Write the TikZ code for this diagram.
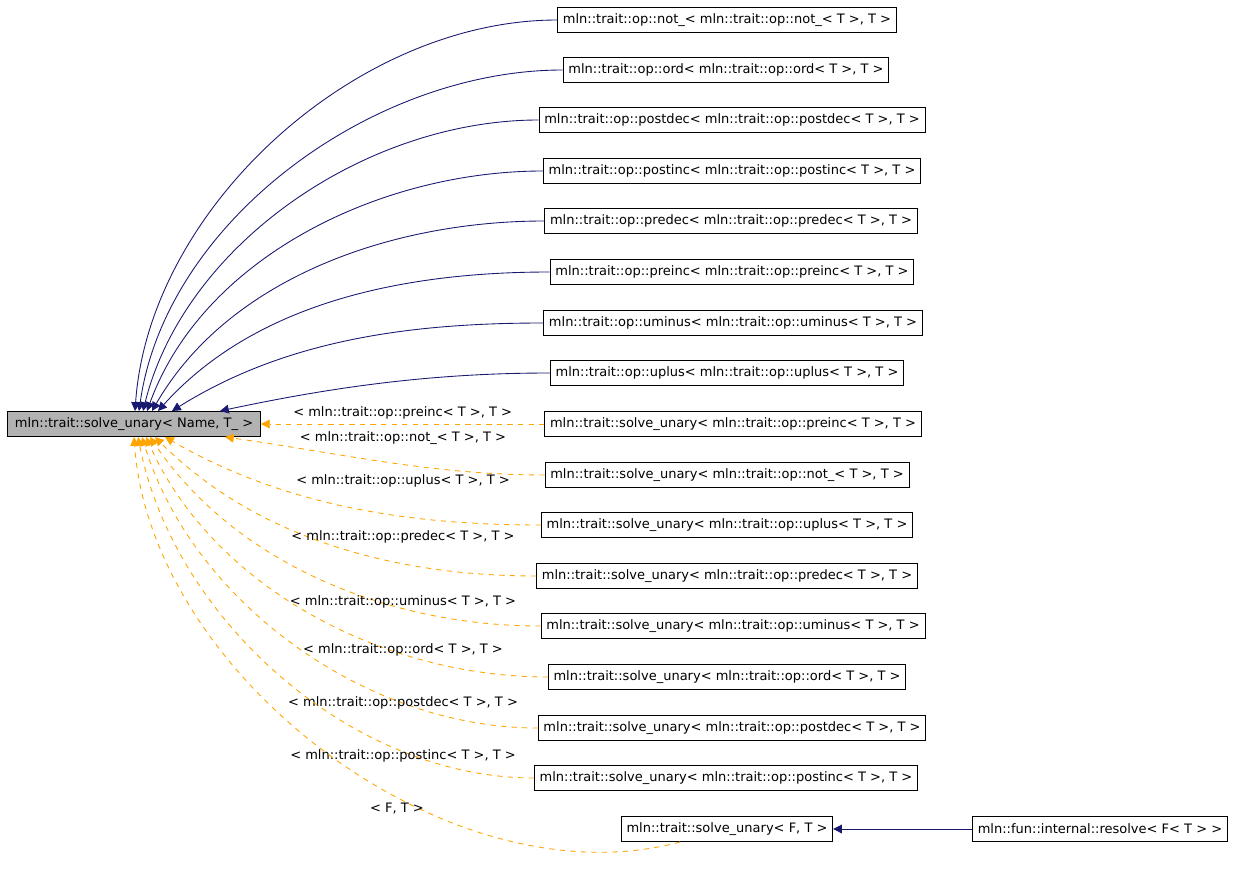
\documentclass[tikz,border=0pt]{standalone}
\usepackage{fontspec}
\setmainfont{DejaVu Sans}
\usetikzlibrary{positioning,arrows.meta}
\definecolor{navyedge}{RGB}{25,25,112}
\definecolor{orangeedge}{RGB}{255,165,0}
\tikzset{every picture/.style={line width=0.5pt}}
\tikzset{
  cls/.style={draw, rectangle, fill=white, inner xsep=3pt, minimum height=14.5pt, font=\fontsize{7.4}{8}\selectfont},
  inherit/.style={navyedge, -{Triangle[length=5pt,width=5pt]}},
  tmpl/.style={orangeedge, dashed, -{Triangle[length=5pt,width=5pt]}},
  tlabel/.style={font=\fontsize{7.4}{8}\selectfont}
}
\begin{document}
\begin{tikzpicture}[x=0.02cm, y=-0.02cm]
    \useasboundingbox (0,0) rectangle (1235,889);
    % Base class
    \node[cls, fill=gray!60, minimum width=253*0.02cm] (main) at (134,424) {mln::trait::solve\_unary< Name, T\_ >};

    % Derived classes (solid)
    \foreach \n/\x/\y/\t/\ex/\ang in {
      not/727/20/{mln::trait::op::not\_< mln::trait::op::not\_< T >, T >}/135/86,
      ord/726/70/{mln::trait::op::ord< mln::trait::op::ord< T >, T >}/139/82,
      postdec/732/120/{mln::trait::op::postdec< mln::trait::op::postdec< T >, T >}/143/76,
      postinc/732/171/{mln::trait::op::postinc< mln::trait::op::postinc< T >, T >}/147/70,
      predec/731/221/{mln::trait::op::predec< mln::trait::op::predec< T >, T >}/152/60,
      preinc/732/272/{mln::trait::op::preinc< mln::trait::op::preinc< T >, T >}/158/48,
      uminus/733/323/{mln::trait::op::uminus< mln::trait::op::uminus< T >, T >}/172/32,
      uplus/727/373/{mln::trait::op::uplus< mln::trait::op::uplus< T >, T >}/220/12}
    {
      \node[cls] (\n) at (\x,\y) {\t};
      \coordinate (e\n) at (\ex,411);
      \draw[inherit] (\n.west) to[out=180, in=\ang, looseness=0.9] (e\n);
    }

    % Template instances (dashed)
    \node[cls] (supreinc) at (733,424) {mln::trait::solve\_unary< mln::trait::op::preinc< T >, T >};
    \draw[tmpl] (supreinc.west) -- (main.east) node[tlabel, black, pos=0.5, above=-1pt] {< mln::trait::op::preinc< T >, T >};
    \foreach \n/\x/\y/\t/\ex/\ang/\ly in {
      not/727/475/{not\_}/225/-8/438,
      uplus/727/525/{uplus}/165/-30/481,
      predec/727/576/{predec}/155/-45/537,
      uminus/733/626/{uminus}/150/-56/602,
      ord/727/677/{ord}/146/-66/650,
      postdec/732/728/{postdec}/142/-73/703,
      postinc/726/778/{postinc}/138/-79/756}
    {
      \node[cls] (su\n) at (\x,\y) {mln::trait::solve\_unary< mln::trait::op::\t< T >, T >};
      \coordinate (f\n) at (\ex,437);
      \draw[tmpl] (su\n.west) to[out=180, in=\ang, looseness=0.9] (f\n);
      \node[tlabel] (l\n) at (403,\ly) {< mln::trait::op::\t< T >, T >};
    }

    % Generic solve_unary and resolve
    \node[cls] (suFT) at (727,829) {mln::trait::solve\_unary< F, T >};
    \node[cls] (resolve) at (1100,829) {mln::fun::internal::resolve< F< T > >};
    \coordinate (fFT) at (134,437);
    \coordinate (sFT) at (680,842);
    \draw[tmpl] (sFT) to[out=195, in=-86, looseness=0.9] (fFT);
    \node[tlabel] (lFT) at (397,809) {< F, T >};
    \draw[inherit] (resolve.west) -- (suFT.east);
\end{tikzpicture}
\end{document}
